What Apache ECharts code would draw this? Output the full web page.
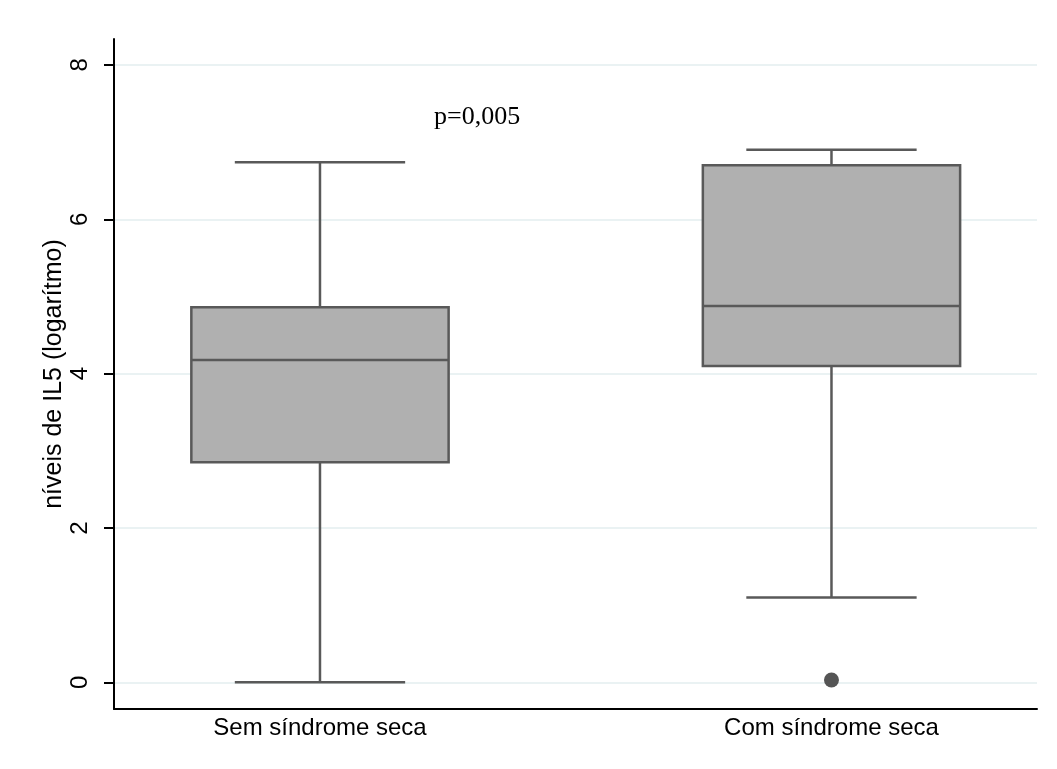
<!DOCTYPE html>
<html>
<head>
<meta charset="utf-8">
<script src="https://cdn.jsdelivr.net/npm/echarts@6/dist/echarts.min.js"></script>
<style>html,body{margin:0;padding:0;background:#fff}#c{width:1057px;height:769px}</style>
</head>
<body>
<div id="c"></div>
<script>
const categories = ['Sem síndrome seca', 'Com síndrome seca'];
// [min, Q1, median, Q3, max]
const boxStats = [
  [0.00, 2.85, 4.175, 4.86, 6.74],
  [1.10, 4.10, 4.875, 6.70, 6.90]
];
const outliers = [[1, 0.03]];
const yTicks = [0, 2, 4, 6, 8];
const yTitle = 'níveis de IL5 (logarítmo)';
const annotation = 'p=0,005';

const boxData = boxStats.map((s, i) => [i].concat(s));
const FONT = '"Liberation Sans", Arial, sans-serif';

const chart = echarts.init(document.getElementById('c'));
chart.setOption({
  animation: false,
  backgroundColor: '#fff',
  grid: { left: 114, right: 20, top: 39, bottom: 60 },
  xAxis: {
    type: 'value',
    min: -0.4027, max: 1.4018,
    axisLine: { show: true, onZero: false, lineStyle: { color: '#000', width: 2 } },
    axisTick: { show: false },
    splitLine: { show: false },
    axisLabel: {
      customValues: [0, 1],
      formatter: v => categories[Math.round(v)] || '',
      color: '#000', fontSize: 24, fontFamily: FONT, margin: 7
    }
  },
  yAxis: {
    type: 'value',
    min: -0.346, max: 8.336,
    name: yTitle,
    nameLocation: 'middle',
    nameRotate: 90,
    nameGap: 47,
    nameMoveOverlap: false,
    nameTextStyle: { color: '#000', fontSize: 25, fontFamily: FONT },
    axisLine: { show: true, onZero: false, lineStyle: { color: '#000', width: 2 } },
    axisTick: { show: true, customValues: yTicks, length: 10, lineStyle: { color: '#000', width: 2 } },
    axisLabel: {
      customValues: yTicks, rotate: 90,
      color: '#000', fontSize: 24, fontFamily: FONT, margin: 22
    },
    splitLine: { show: true, lineStyle: { color: '#eaf2f3', width: 2 } }
  },
  graphic: [{
    type: 'text', left: 434, top: 104,
    style: { text: annotation, font: '26px "Liberation Serif", "Times New Roman", serif', fill: '#000' }
  }],
  series: [
    {
      type: 'custom',
      data: boxData,
      encode: { x: 0, y: [1, 2, 3, 4, 5] },
      renderItem: function (params, api) {
        const x = api.value(0);
        const mn = api.value(1), q1 = api.value(2), md = api.value(3), q3 = api.value(4), mx = api.value(5);
        const bw = api.size([1, 0])[0];
        const bh = bw * 0.2515, ch = bw * 0.1665;
        const pMin = api.coord([x, mn]), pQ1 = api.coord([x, q1]), pMd = api.coord([x, md]);
        const pQ3 = api.coord([x, q3]), pMax = api.coord([x, mx]);
        const cx = pMin[0];
        const ls = { stroke: '#595959', lineWidth: 2.5 };
        return {
          type: 'group',
          children: [
            { type: 'line', shape: { x1: cx, y1: pMin[1], x2: cx, y2: pQ1[1] }, style: ls },
            { type: 'line', shape: { x1: cx, y1: pQ3[1], x2: cx, y2: pMax[1] }, style: ls },
            { type: 'line', shape: { x1: cx - ch, y1: pMin[1], x2: cx + ch, y2: pMin[1] }, style: ls },
            { type: 'line', shape: { x1: cx - ch, y1: pMax[1], x2: cx + ch, y2: pMax[1] }, style: ls },
            { type: 'rect', shape: { x: cx - bh, y: pQ3[1], width: 2 * bh, height: pQ1[1] - pQ3[1] },
              style: { fill: '#b0b0b0', stroke: '#595959', lineWidth: 2.5 } },
            { type: 'line', shape: { x1: cx - bh, y1: pMd[1], x2: cx + bh, y2: pMd[1] }, style: ls }
          ]
        };
      }
    },
    {
      type: 'scatter',
      data: outliers,
      symbol: 'circle',
      symbolSize: 15,
      itemStyle: { color: '#555555', opacity: 1 }
    }
  ]
});
</script>
</body>
</html>
